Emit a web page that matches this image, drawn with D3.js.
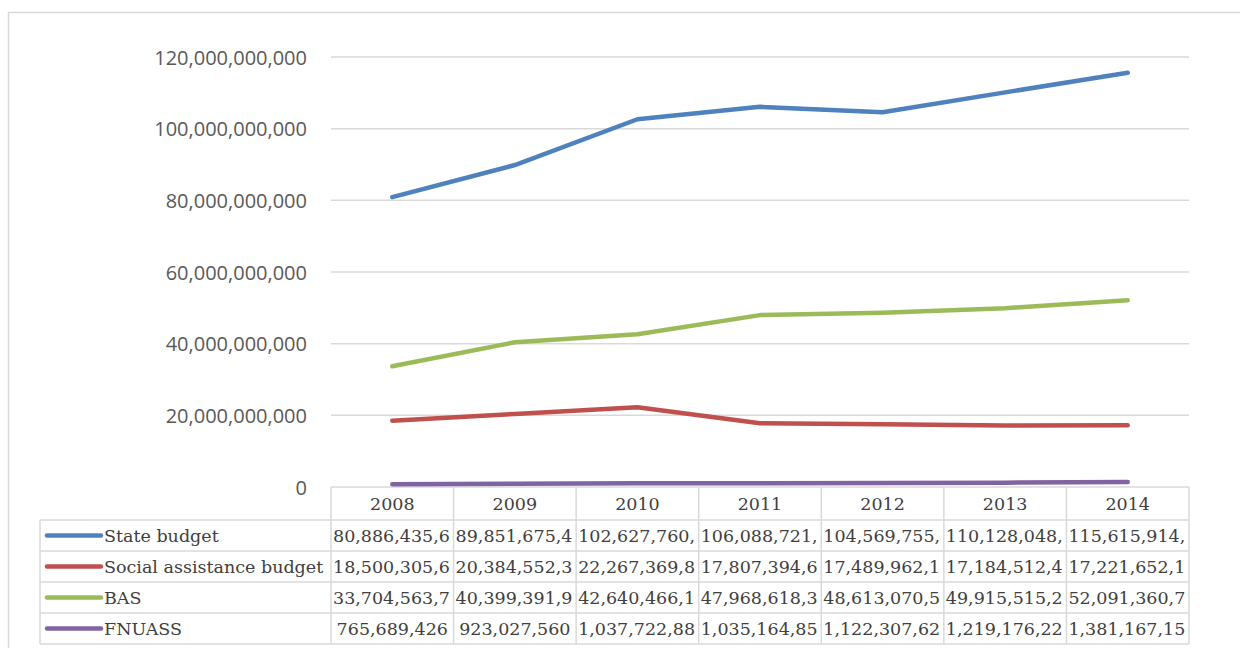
<!DOCTYPE html>
<html>
<head>
<meta charset="utf-8">
<script src="https://cdn.jsdelivr.net/npm/d3@7"></script>
<style>
  html, body { margin: 0; padding: 0; background: #fff; }
  svg { display: block; }
</style>
</head>
<body>
<svg id="chart" width="1240" height="648"></svg>
<script>
// Budget series, 2008-2014
const years = ["2008", "2009", "2010", "2011", "2012", "2013", "2014"];
const seriesNames = ["State budget", "Social assistance budget", "BAS", "FNUASS"];
const stateBudget = [80886435600, 89851675400, 102627760000, 106088721000, 104569755000, 110128048000, 115615914000];
const socialBudget = [18500305600, 20384552300, 22267369800, 17807394600, 17489962100, 17184512400, 17221652100];
const basBudget = [33704563700, 40399391900, 42640466100, 47968618300, 48613070500, 49915515200, 52091360700];
const fnuassBudget = [765689426, 923027560, 1037722880, 1035164850, 1122307620, 1219176220, 1381167150];
const yTicks = [0, 20000000000, 40000000000, 60000000000, 80000000000, 100000000000, 120000000000];
const seriesColors = ["#4F81BD", "#C0504D", "#9BBB59", "#8064A2"];

const series = seriesNames.map((name, i) => ({
  name,
  color: seriesColors[i],
  values: [stateBudget, socialBudget, basBudget, fnuassBudget][i]
}));

const svg = d3.select("#chart");
const fmt = d3.format(",");

// outer frame
svg.append("rect")
  .attr("x", 8.5).attr("y", 12.5)
  .attr("width", 1260).attr("height", 700)
  .attr("fill", "#fff").attr("stroke", "#d9d9d9").attr("stroke-width", 1.5);

const plotLeft = 331, plotRight = 1189, plotTop = 57, plotBottom = 487;

const x = d3.scaleBand().domain(years).range([plotLeft, plotRight]).padding(0);
const y = d3.scaleLinear().domain([0, 120000000000]).range([plotBottom, plotTop]);

// horizontal gridlines
svg.append("g")
  .selectAll("line")
  .data(yTicks)
  .join("line")
  .attr("x1", plotLeft).attr("x2", plotRight)
  .attr("y1", d => y(d)).attr("y2", d => y(d))
  .attr("stroke", "#d9d9d9").attr("stroke-width", 1.5);

// y axis labels
const yAxis = d3.axisLeft(y).tickValues(yTicks).tickFormat(fmt).tickSize(0).tickPadding(0);
const yg = svg.append("g").attr("transform", "translate(307,0)").call(yAxis);
yg.select(".domain").remove();
yg.selectAll("text")
  .attr("font-family", "'Open Sans', sans-serif")
  .attr("font-size", 20)
  .attr("fill", "#595959")
  .attr("dy", "0.35em");

// series lines
const line = d3.line()
  .x((d, i) => x(years[i]) + x.bandwidth() / 2)
  .y(d => y(d));

svg.append("g")
  .selectAll("path")
  .data(series)
  .join("path")
  .attr("d", d => line(d.values))
  .attr("fill", "none")
  .attr("stroke", d => d.color)
  .attr("stroke-width", 4.5)
  .attr("stroke-linejoin", "round")
  .attr("stroke-linecap", "round");

// data table below the plot
const tableLeft = 40;
const headerTop = plotBottom, headerBottom = 520;
const rowH = 31;
const gridColor = "#d9d9d9";
const tableFont = "'DejaVu Serif', serif";
const tableSize = 17.5;
const textColor = "#404040";

const table = svg.append("g");

// header cells
table.selectAll("text.year")
  .data(years)
  .join("text")
  .attr("class", "year")
  .attr("x", d => x(d) + x.bandwidth() / 2)
  .attr("y", (headerTop + headerBottom) / 2)
  .attr("dy", "0.35em")
  .attr("text-anchor", "middle")
  .attr("font-family", tableFont)
  .attr("font-size", tableSize)
  .attr("fill", textColor)
  .text(d => d);

const tableBottom = headerBottom + rowH * series.length;

// vertical cell borders
table.selectAll("line.v")
  .data(years.map(yr => x(yr)).concat([plotRight]))
  .join("line")
  .attr("class", "v")
  .attr("x1", d => d).attr("x2", d => d)
  .attr("y1", headerTop).attr("y2", tableBottom)
  .attr("stroke", gridColor).attr("stroke-width", 1.5);

table.append("line")
  .attr("x1", tableLeft).attr("x2", tableLeft)
  .attr("y1", headerBottom).attr("y2", tableBottom)
  .attr("stroke", gridColor).attr("stroke-width", 1.5);

// horizontal row borders
table.selectAll("line.h")
  .data(d3.range(series.length + 1))
  .join("line")
  .attr("class", "h")
  .attr("x1", tableLeft).attr("x2", plotRight)
  .attr("y1", i => headerBottom + i * rowH).attr("y2", i => headerBottom + i * rowH)
  .attr("stroke", gridColor).attr("stroke-width", 1.5);

series.forEach((s, i) => {
  const cy = headerBottom + i * rowH + rowH / 2;
  // legend key
  table.append("line")
    .attr("x1", 47).attr("x2", 101)
    .attr("y1", cy).attr("y2", cy)
    .attr("stroke", s.color).attr("stroke-width", 4.5)
    .attr("stroke-linecap", "round");
  table.append("text")
    .attr("x", 104).attr("y", cy).attr("dy", "0.35em")
    .attr("font-family", tableFont)
    .attr("font-size", tableSize)
    .attr("fill", textColor)
    .text(s.name);

  // value cells: centred when they fit, otherwise left-aligned and cut to the cell width
  s.values.forEach((v, j) => {
    const x0 = x(years[j]);
    const avail = x.bandwidth() - 3;
    const full = fmt(v);
    const t = table.append("text")
      .attr("y", cy).attr("dy", "0.35em")
      .attr("font-family", tableFont)
      .attr("font-size", tableSize)
      .attr("fill", textColor)
      .text(full);
    if (t.node().getComputedTextLength() <= avail - 2) {
      t.attr("x", x0 + x.bandwidth() / 2).attr("text-anchor", "middle");
    } else {
      let n = full.length;
      while (n > 1 && t.node().getComputedTextLength() > avail) {
        n -= 1;
        t.text(full.slice(0, n));
      }
      t.attr("x", x0 + 2).attr("text-anchor", "start");
    }
  });
});
</script>
</body>
</html>
